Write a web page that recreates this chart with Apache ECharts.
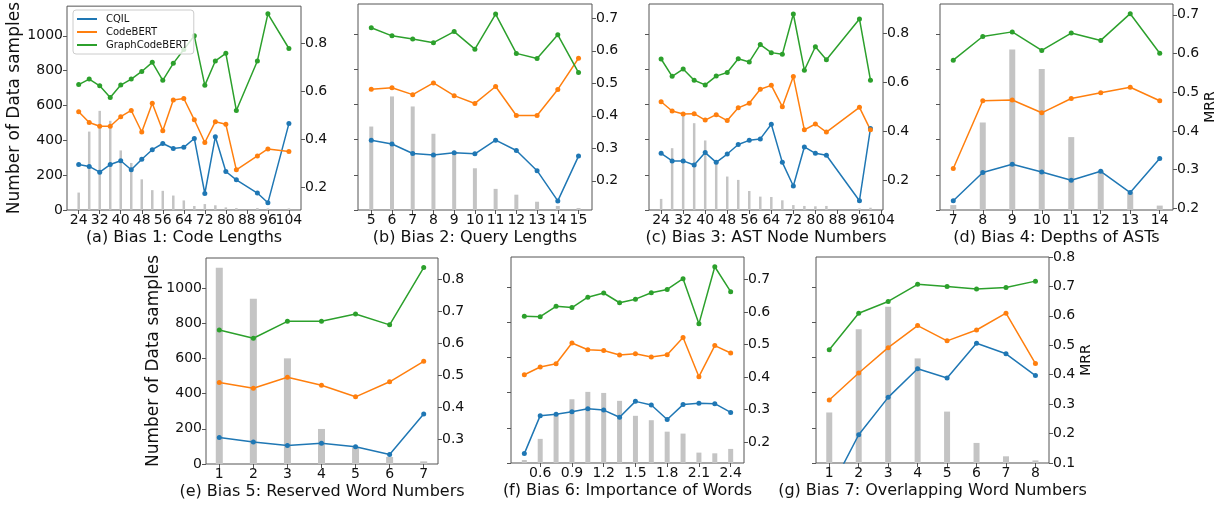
<!DOCTYPE html>
<html><head><meta charset="utf-8">
<script src="https://cdn.jsdelivr.net/npm/echarts@6/dist/echarts.min.js"></script>
<style>html,body{margin:0;padding:0;background:#fff}#c{width:1225px;height:506px}</style>
</head><body><div id="c"></div>
<script>
// ---------------- DATA ----------------
const seriesNames = ['CQIL', 'CodeBERT', 'GraphCodeBERT'];
const countTicks = [0, 200, 400, 600, 800, 1000];

// (a) Bias 1: Code Lengths
const a_x = [24,28,32,36,40,44,48,52,56,60,64,68,72,76,80,84,92,96,104];
const a_count = [100,450,569,512,342,270,176,114,110,83,55,23,34,27,15,11,11,9,9];
const a_cqil = [0.294,0.286,0.262,0.294,0.310,0.272,0.316,0.356,0.382,0.361,0.366,0.403,0.173,0.410,0.265,0.230,0.175,0.134,0.465];
const a_codebert = [0.515,0.470,0.454,0.454,0.494,0.520,0.430,0.550,0.435,0.564,0.570,0.481,0.386,0.473,0.462,0.272,0.330,0.359,0.348];
const a_graph = [0.628,0.651,0.623,0.574,0.626,0.651,0.683,0.721,0.646,0.717,0.775,0.832,0.625,0.727,0.759,0.520,0.727,0.924,0.779];
const a_xticks = [24,32,40,48,56,64,72,80,88,96,104];
const a_rticks = [0.2,0.4,0.6,0.8];

// (b) Bias 2: Query Lengths
const b_x = [5,6,7,8,9,10,11,12,13,14,15];
const b_count = [474,645,588,433,323,237,120,87,47,23,11];
const b_cqil = [0.325,0.313,0.284,0.279,0.286,0.283,0.325,0.293,0.231,0.138,0.276];
const b_codebert = [0.482,0.486,0.465,0.501,0.462,0.438,0.490,0.401,0.401,0.481,0.577];
const b_graph = [0.671,0.646,0.636,0.625,0.659,0.605,0.713,0.592,0.576,0.649,0.533];
const b_xticks = [5,6,7,8,9,10,11,12,13,14,15];
const b_rticks = [0.2,0.3,0.4,0.5,0.6,0.7];

// (c) Bias 3: AST Node Numbers
const c_x = [24,28,32,36,40,44,48,52,56,60,64,68,72,76,80,84,96,100];
const c_count = [63,351,541,493,395,270,190,171,108,76,74,55,28,23,21,23,9,13];
const c_cqil = [0.309,0.278,0.278,0.261,0.312,0.272,0.306,0.345,0.362,0.368,0.428,0.272,0.175,0.335,0.309,0.301,0.115,0.411];
const c_codebert = [0.520,0.482,0.470,0.471,0.445,0.467,0.443,0.495,0.514,0.571,0.587,0.500,0.623,0.405,0.429,0.396,0.497,0.405];
const c_graph = [0.695,0.624,0.654,0.608,0.589,0.625,0.640,0.696,0.683,0.754,0.721,0.714,0.879,0.649,0.745,0.692,0.859,0.608];
const c_xticks = [24,32,40,48,56,64,72,80,88,96,104];
const c_rticks = [0.2,0.4,0.6,0.8];

// (d) Bias 4: Depths of ASTs
const d_x = [7,8,9,10,11,12,13,14];
const d_count = [28,497,911,801,414,224,99,25];
const d_cqil = [0.220,0.293,0.314,0.294,0.273,0.296,0.241,0.329];
const d_codebert = [0.303,0.478,0.480,0.447,0.484,0.499,0.513,0.478];
const d_graph = [0.583,0.644,0.656,0.608,0.653,0.634,0.703,0.601];
const d_xticks = [7,8,9,10,11,12,13,14];
const d_rticks = [0.2,0.3,0.4,0.5,0.6,0.7];

// (e) Bias 5: Reserved Word Numbers
const e_x = [1,2,3,4,5,6,7];
const e_count = [1114,939,600,199,95,40,15];
const e_cqil = [0.305,0.291,0.280,0.287,0.276,0.252,0.378];
const e_codebert = [0.477,0.459,0.493,0.468,0.432,0.479,0.543];
const e_graph = [0.641,0.615,0.668,0.668,0.691,0.657,0.836];
const e_xticks = [1,2,3,4,5,6,7];
const e_rticks = [0.3,0.4,0.5,0.6,0.7,0.8];

// (f) Bias 6: Importance of Words
const f_x = [0.45,0.6,0.75,0.9,1.05,1.2,1.35,1.5,1.65,1.8,1.95,2.1,2.25,2.4];
const f_count = [17,137,271,362,404,398,353,268,243,178,167,59,55,80];
const f_cqil = [0.164,0.281,0.285,0.293,0.302,0.298,0.276,0.325,0.314,0.269,0.315,0.319,0.318,0.291];
const f_codebert = [0.407,0.431,0.441,0.505,0.484,0.482,0.468,0.472,0.462,0.469,0.522,0.401,0.497,0.474];
const f_graph = [0.587,0.586,0.618,0.614,0.646,0.659,0.629,0.640,0.660,0.670,0.703,0.564,0.740,0.663];
const f_xticks = [0.6,0.9,1.2,1.5,1.8,2.1,2.4];
const f_rticks = [0.2,0.3,0.4,0.5,0.6,0.7];

// (g) Bias 7: Overlapping Word Numbers
const g_x = [1,2,3,4,5,6,7,8];
const g_count = [287,759,888,594,292,114,38,15];
const g_cqil = [0.003,0.196,0.323,0.420,0.389,0.507,0.471,0.397];
const g_codebert = [0.314,0.406,0.492,0.567,0.515,0.552,0.609,0.438];
const g_graph = [0.485,0.609,0.649,0.707,0.700,0.691,0.696,0.718];
const g_xticks = [1,2,3,4,5,6,7,8];
const g_rticks = [0.1,0.2,0.3,0.4,0.5,0.6,0.7,0.8];

// ---------------- LAYOUT / STYLE ----------------
const FONT = 'DejaVu Sans';
const TXT = '#111';
const FRAME = '#555';
const COLORS = ['#1f77b4', '#ff7f0e', '#2ca02c'];
const BAR = '#c4c4c4';

const panels = [
  {x:a_x, count:a_count, lines:[a_cqil,a_codebert,a_graph], title:'(a) Bias 1: Code Lengths', box:[67,4,234,206], xr:[19.55,108.6], xt:a_xticks, rt:a_rticks, rr:[0.104,0.956], bw:2.5, leftLab:true, mrr:false, xfix:0},
  {x:b_x, count:b_count, lines:[b_cqil,b_codebert,b_graph], title:'(b) Bias 2: Query Lengths', box:[358,4,234,206], xr:[4.36,15.65], xt:b_xticks, rt:b_rticks, rr:[0.110,0.744], bw:4, leftLab:false, mrr:false, xfix:0},
  {x:c_x, count:c_count, lines:[c_cqil,c_codebert,c_graph], title:'(c) Bias 3: AST Node Numbers', box:[649,4,234,206], xr:[19.6,104.55], xt:c_xticks, rt:c_rticks, rr:[0.077,0.920], bw:2.5, leftLab:false, mrr:false, xfix:0},
  {x:d_x, count:d_count, lines:[d_cqil,d_codebert,d_graph], title:'(d) Bias 4: Depths of ASTs', box:[940,4,233,206], xr:[6.55,14.45], xt:d_xticks, rt:d_rticks, rr:[0.196,0.728], bw:6, leftLab:false, mrr:true, xfix:0},
  {x:e_x, count:e_count, lines:[e_cqil,e_codebert,e_graph], title:'(e) Bias 5: Reserved Word Numbers', box:[206,258,232,206], xr:[0.61,7.42], xt:e_xticks, rt:e_rticks, rr:[0.222,0.866], bw:7, leftLab:true, mrr:false, xfix:0},
  {x:f_x, count:f_count, lines:[f_cqil,f_codebert,f_graph], title:'(f) Bias 6: Importance of Words', box:[511,257,233,206], xr:[0.324,2.526], xt:f_xticks, rt:f_rticks, rr:[0.135,0.770], bw:5, leftLab:false, mrr:false, xfix:1},
  {x:g_x, count:g_count, lines:[g_cqil,g_codebert,g_graph], title:'(g) Bias 7: Overlapping Word Numbers', box:[816,257,233,206], xr:[0.55,8.46], xt:g_xticks, rt:g_rticks, rr:[0.1,0.8], bw:6, leftLab:false, mrr:true, xfix:0}
];

const tickStyle = {show:true, inside:false, length:4, lineStyle:{color:FRAME, width:1}};
const labStyle = {fontSize:14, color:TXT, fontFamily:FONT, hideOverlap:false, showMinLabel:true, showMaxLabel:true};

const option = {
  animation:false, backgroundColor:'#fff',
  grid:[], xAxis:[], yAxis:[], series:[],
  legend:{
    data:seriesNames, orient:'vertical', left:73, top:10,
    icon:'rect', itemWidth:20, itemHeight:2, itemGap:3,
    padding:[4,6,4,4], selectedMode:false,
    backgroundColor:'rgba(255,255,255,0.8)', borderColor:'#ccc', borderWidth:1, borderRadius:3,
    textStyle:{fontSize:10, color:TXT, fontFamily:FONT, padding:[0,0,0,4]}
  }
};

const N = panels.length;
panels.forEach((p, i) => {
  const fmtX = v => p.xfix ? Number(v).toFixed(1) : String(v);
  const evenLab = p.xt.filter((v, k) => k % 2 === 0);
  const oddLab = p.xt.filter((v, k) => k % 2 === 1);
  option.grid[i] = {left:p.box[0], top:p.box[1], width:p.box[2], height:p.box[3],
    show:true, borderColor:FRAME, borderWidth:1, backgroundColor:'transparent'};
  // twin grid (same box) that only carries the alternate tick labels
  option.grid[N + i] = {left:p.box[0], top:p.box[1], width:p.box[2], height:p.box[3], show:false};

  option.xAxis[i] = {
    type:'value', gridIndex:i, min:p.xr[0], max:p.xr[1], position:'bottom',
    splitLine:{show:false}, axisLine:{show:false},
    axisTick:Object.assign({customValues:p.xt}, tickStyle),
    axisLabel:Object.assign({customValues:evenLab, margin:3, formatter:fmtX}, labStyle),
    name:p.title, nameLocation:'middle', nameGap:20,
    nameTextStyle:{fontSize:16, color:TXT, fontFamily:FONT}
  };
  option.xAxis[N + i] = {
    type:'value', gridIndex:N + i, min:p.xr[0], max:p.xr[1], position:'bottom',
    splitLine:{show:false}, axisLine:{show:false}, axisTick:{show:false},
    axisLabel:Object.assign({customValues:oddLab, margin:3, formatter:fmtX}, labStyle)
  };

  const left = {
    type:'value', gridIndex:i, position:'left', min:0, max:1170,
    splitLine:{show:false}, axisLine:{show:false},
    axisTick:Object.assign({customValues:countTicks}, tickStyle),
    axisLabel:Object.assign({show:p.leftLab, customValues:countTicks, margin:4, formatter:v => String(v)}, labStyle)
  };
  if (p.leftLab) {
    left.name = 'Number of Data samples'; left.nameLocation = 'middle'; left.nameGap = 37;
    left.nameTextStyle = {fontSize:17, color:TXT, fontFamily:FONT};
  }
  option.yAxis[2 * i] = left;
  const right = {
    type:'value', gridIndex:i, position:'right', min:p.rr[0], max:p.rr[1],
    splitLine:{show:false}, axisLine:{show:false},
    axisTick:Object.assign({customValues:p.rt}, tickStyle),
    axisLabel:Object.assign({customValues:p.rt, margin:4, formatter:v => Number(v).toFixed(1)}, labStyle)
  };
  if (p.mrr) {
    right.name = 'MRR'; right.nameLocation = 'middle'; right.nameGap = 30; right.nameRotate = 90;
    right.nameTextStyle = {fontSize:14, color:TXT, fontFamily:FONT};
  }
  option.yAxis[2 * i + 1] = right;
  option.yAxis[2 * N + i] = {type:'value', gridIndex:N + i, min:0, max:1, show:false};

  option.series.push({
    type:'bar', xAxisIndex:i, yAxisIndex:2*i, barWidth:p.bw,
    itemStyle:{color:BAR}, silent:true,
    data:p.x.map((xv, k) => [xv, p.count[k]])
  });
  p.lines.forEach((vals, s) => {
    option.series.push({
      type:'line', name:seriesNames[s], xAxisIndex:i, yAxisIndex:2*i+1,
      symbol:'circle', symbolSize:5, clip:true,
      lineStyle:{color:COLORS[s], width:1.5}, itemStyle:{color:COLORS[s]},
      data:p.x.map((xv, k) => [xv, vals[k]])
    });
  });
});

const chart = echarts.init(document.getElementById('c'), null, {renderer:'canvas'});
chart.setOption(option);
</script>
</body></html>
